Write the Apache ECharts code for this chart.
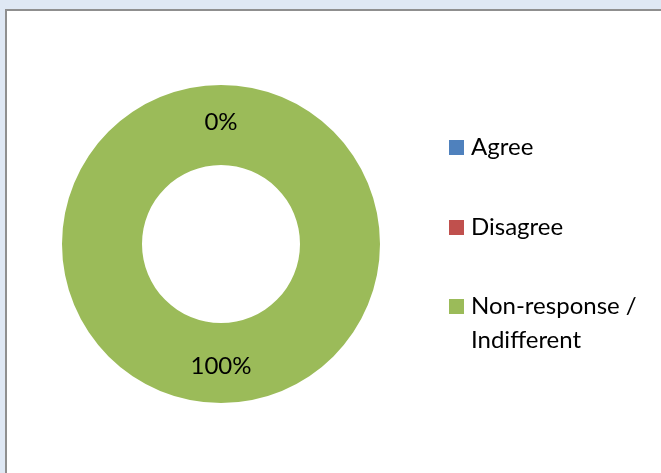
<!DOCTYPE html>
<html>
<head>
<meta charset="utf-8">
<script src="https://cdn.jsdelivr.net/npm/echarts@6/dist/echarts.min.js"></script>
<style>
  html, body { margin: 0; padding: 0; background: #dfe8f4; }
  #chart { width: 661px; height: 473px; }
</style>
</head>
<body>
<div id="chart"></div>
<script>
// Survey answers shown as a doughnut
const categories = ['Agree', 'Disagree', 'Non-response / Indifferent'];
const legendLines = [['Agree'], ['Disagree'], ['Non-response /', 'Indifferent']];
const values = [0, 0, 100];
const colors = ['#4f81bd', '#c0504d', '#9bbb59'];

const FONT = 'Lato';
const FONT_SIZE = 24;

const chart = echarts.init(document.getElementById('chart'), null, { renderer: 'canvas' });

// Legend drawn as graphic items so the swatch sits beside the first line
const legendMid = [147.5, 227.5, 306.5];
const legendGraphics = [];
categories.forEach((name, i) => {
  legendGraphics.push({
    type: 'rect',
    shape: { x: 449, y: legendMid[i] - 7.5, width: 15, height: 15 },
    style: { fill: colors[i] }
  });
  legendGraphics.push({
    type: 'text',
    x: 471,
    y: legendMid[i] - 17,
    style: {
      text: legendLines[i].join('\n'),
      font: FONT_SIZE + 'px ' + FONT,
      fill: '#000',
      verticalAlign: 'top',
      lineHeight: 34
    }
  });
});

chart.setOption({
  backgroundColor: 'transparent',
  animation: false,
  graphic: [
    {
      type: 'rect',
      z: -10,
      shape: { x: 6, y: 10, width: 700, height: 500 },
      style: { fill: '#ffffff', stroke: '#8f8f8f', lineWidth: 2 }
    },
    ...legendGraphics
  ],
  series: [{
    type: 'pie',
    center: [221, 244],
    radius: [79, 159],
    startAngle: 90,
    clockwise: true,
    silent: true,
    avoidLabelOverlap: false,
    data: categories.map((name, i) => ({
      name: name,
      value: values[i],
      itemStyle: { color: colors[i] }
    })),
    label: {
      show: true,
      position: 'inside',
      formatter: p => Math.round(p.percent) + '%',
      color: '#000',
      fontFamily: FONT,
      fontSize: FONT_SIZE
    },
    labelLine: { show: false },
    itemStyle: { borderWidth: 0 }
  }]
});
</script>
</body>
</html>
